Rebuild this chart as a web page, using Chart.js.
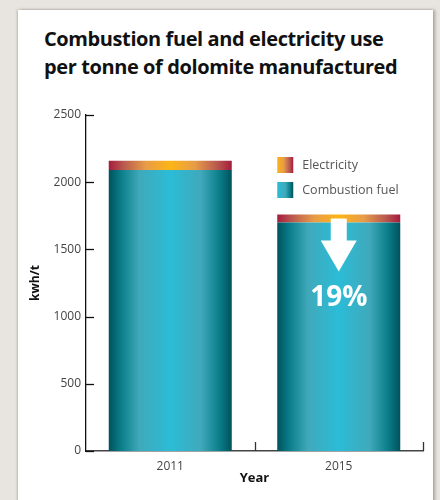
<!DOCTYPE html>
<html>
<head>
<meta charset="utf-8">
<script src="https://cdn.jsdelivr.net/npm/chart.js@4/dist/chart.umd.min.js"></script>
<style>
  html, body { margin: 0; padding: 0; background: #e8e4df; width: 440px; height: 500px; overflow: hidden; }
  #panel { position: absolute; left: 18px; top: 10px; width: 415px; height: 495px; background: #fff;
           box-shadow: 2px 0 3px rgba(120,110,100,0.55), -1px 0 2px rgba(120,110,100,0.35); }
  #title { position: absolute; left: 44px; top: 25px; font-family: "Open Sans", sans-serif; font-weight: bold;
           font-size: 20px; line-height: 28px; color: #111; letter-spacing: -0.4px; white-space: nowrap; }
  #c { position: absolute; left: 0; top: 0; }
</style>
</head>
<body>
<div id="panel"></div>
<div id="title">Combustion fuel and electricity use<br>per tonne of dolomite manufactured</div>
<canvas id="c" width="440" height="500"></canvas>
<script>
const categories = ["2011", "2015"];
const combustionFuel = [2090, 1700];
const electricity = [70, 60];
const yTicks = [0, 500, 1000, 1500, 2000, 2500];
const seriesLabels = ["Combustion fuel", "Electricity"];
const reductionLabel = "19%";
const axisTitles = { x: "Year", y: "kwh/t" };

const tealStops = [[0, "#00525c"], [0.1, "#0a7e89"], [0.25, "#40a9bb"], [0.5, "#2bbcd7"], [0.75, "#40a9bb"], [0.9, "#0a7e89"], [1, "#00525c"]];
const warmStops = [[0, "#a51c3c"], [0.12, "#b9594f"], [0.3, "#e89c48"], [0.5, "#fdb515"], [0.7, "#e89c48"], [0.88, "#b9594f"], [1, "#a51c3c"]];

function makeGrad(ctx, x0, x1, stops) {
  const g = ctx.createLinearGradient(x0, 0, x1, 0);
  stops.forEach(s => g.addColorStop(s[0], s[1]));
  return g;
}

function barGradient(stops) {
  return function (context) {
    const chart = context.chart;
    const xs = chart.scales.x;
    if (!xs || context.dataIndex === undefined) return stops[3][1];
    const cx = xs.getPixelForValue(context.dataIndex);
    const catW = xs.width / categories.length;
    const w = catW * 0.73;
    if (!isFinite(cx) || !isFinite(w) || w <= 0) return stops[3][1];
    return makeGrad(chart.ctx, cx - w / 2, cx + w / 2, stops);
  };
}

const extras = {
  id: "extras",
  afterDraw(chart) {
    const ctx = chart.ctx;
    const xs = chart.scales.x, ys = chart.scales.y;
    const area = chart.chartArea;
    ctx.save();
    ctx.strokeStyle = "#111";
    ctx.lineWidth = 1.3;
    yTicks.forEach(v => {
      const y = Math.round(ys.getPixelForValue(v)) + 0.5;
      ctx.beginPath(); ctx.moveTo(area.left, y); ctx.lineTo(area.left + 8, y); ctx.stroke();
    });
    ctx.strokeStyle = "#333";
    const catW = xs.width / categories.length;
    categories.forEach((c, i) => {
      const x = Math.round(xs.getPixelForValue(i) + catW / 2) + 0.5;
      ctx.beginPath(); ctx.moveTo(x, area.bottom); ctx.lineTo(x, area.bottom - 9); ctx.stroke();
    });
    const lx = xs.getPixelForValue(1) - catW * 0.73 / 2;
    const items = [
      { label: seriesLabels[1], stops: warmStops, y: 157 },
      { label: seriesLabels[0], stops: tealStops, y: 182 }
    ];
    ctx.font = "12.5px 'Open Sans', sans-serif";
    ctx.textBaseline = "middle";
    ctx.textAlign = "left";
    items.forEach(it => {
      ctx.fillStyle = makeGrad(ctx, lx - 16, lx + 16, it.stops);
      ctx.fillRect(lx, it.y, 16, 16);
      ctx.fillStyle = "#555";
      ctx.fillText(it.label, lx + 25, it.y + 8.5);
    });
    const ax = xs.getPixelForValue(1);
    const top = ys.getPixelForValue(combustionFuel[1]) - 4;
    ctx.fillStyle = "#fff";
    ctx.beginPath();
    ctx.moveTo(ax - 8, top);
    ctx.lineTo(ax + 8, top);
    ctx.lineTo(ax + 8, top + 22);
    ctx.lineTo(ax + 18, top + 22);
    ctx.lineTo(ax, top + 53);
    ctx.lineTo(ax - 18, top + 22);
    ctx.lineTo(ax - 8, top + 22);
    ctx.closePath();
    ctx.fill();
    ctx.font = "bold 28px 'Open Sans', sans-serif";
    ctx.textAlign = "center";
    ctx.textBaseline = "middle";
    ctx.fillText(reductionLabel, ax, top + 80);
    ctx.restore();
  }
};

new Chart(document.getElementById("c"), {
  type: "bar",
  data: {
    labels: categories,
    datasets: [
      { label: seriesLabels[0], data: combustionFuel, backgroundColor: barGradient(tealStops), borderWidth: 0 },
      { label: seriesLabels[1], data: electricity, backgroundColor: barGradient(warmStops), borderWidth: 0 }
    ]
  },
  options: {
    responsive: false,
    animation: false,
    events: [],
    layout: { padding: { left: 20, top: 115, right: 17, bottom: 9 } },
    datasets: { bar: { categoryPercentage: 1, barPercentage: 0.73 } },
    plugins: { legend: { display: false }, title: { display: false }, tooltip: { enabled: false } },
    scales: {
      x: {
        stacked: true,
        offset: true,
        afterFit(s) { s.height = 40; },
        grid: { display: false, drawTicks: false },
        border: { display: true, color: "#444", width: 1.5 },
        ticks: { padding: 8, color: "#444", font: { family: "'Open Sans', sans-serif", size: 12 } },
        title: { display: true, text: axisTitles.x, color: "#111", padding: { top: 0, bottom: 5 },
                 font: { family: "'Open Sans', sans-serif", size: 13, weight: "bold" } }
      },
      y: {
        stacked: true,
        min: 0, max: 2500,
        afterFit(s) { s.width = 66; },
        afterBuildTicks(s) { s.ticks = yTicks.map(v => ({ value: v })); },
        grid: { display: false, drawTicks: false },
        border: { display: true, color: "#111", width: 1.3 },
        ticks: { padding: 5, color: "#444", font: { family: "'Open Sans', sans-serif", size: 12 },
                 callback: v => String(v) },
        title: { display: true, text: axisTitles.y, color: "#111", padding: { top: 8, bottom: 0 },
                 font: { family: "'Open Sans', sans-serif", size: 12, weight: "bold" } }
      }
    }
  },
  plugins: [extras]
});
</script>
</body>
</html>
